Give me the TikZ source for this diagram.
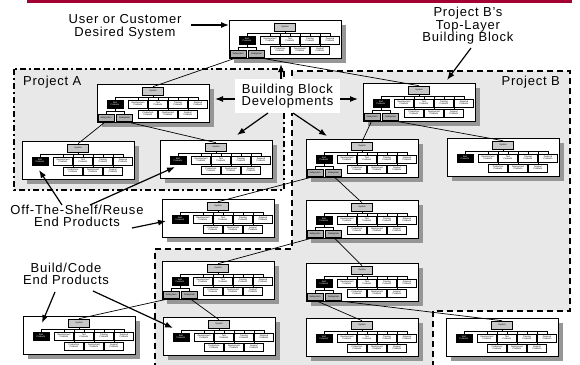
\documentclass[tikz,border=0pt]{standalone}
\usepackage{fontspec}
\setmainfont{Liberation Sans}
\usetikzlibrary{arrows.meta}
\definecolor{barred}{RGB}{163,0,52}
\definecolor{areagray}{RGB}{232,232,232}
\definecolor{shadowgray}{RGB}{150,150,150}
\definecolor{sysgray}{RGB}{200,200,200}
\definecolor{subgray}{RGB}{175,175,175}
\tikzset{
  tinytext/.style={font=\fontsize{2.2}{2.4}\selectfont, align=center, inner sep=0pt},
  sysbox/.style={tinytext, draw, line width=0.6pt, fill=sysgray, minimum width=21pt, minimum height=8pt},
  endbox/.style={tinytext, draw, fill=black, text=white, minimum width=16pt, minimum height=8pt},
  pbox/.style={tinytext, draw, line width=0.5pt, fill=white, minimum width=19pt, minimum height=8pt},
  subbox/.style={tinytext, draw, line width=0.5pt, fill=subgray, minimum width=16pt, minimum height=7pt},
  innerline/.style={line width=0.45pt},
  lbl/.style={font=\fontsize{13}{12.5}\selectfont\addfontfeature{LetterSpace=6}, align=center, inner sep=0pt},
  callout/.style={line width=1.2pt, -{Latex[length=8pt,width=6pt]}},
  linkline/.style={line width=0.7pt},
  areaB/.style={draw, line width=1.6pt, dash pattern=on 6pt off 4pt},
  areaA/.style={draw, line width=1.6pt, dash pattern=on 6pt off 3pt on 2pt off 3pt},
}
\newcommand{\blockbase}{%
  \fill[shadowgray] (5,5) rectangle (117,43);
  \draw[fill=white, line width=1pt] (0,0) rectangle (112,38);
  \draw[innerline] (56,10) -- (56,13) (18,13) -- (101,13)
    (18,13) -- (18,16) (41,13) -- (41,16) (61,13) -- (61,16) (81,13) -- (81,16) (101,13) -- (101,16)
    (51,13) -- (51,26) (71,13) -- (71,26) (91,13) -- (91,26);
  \node[sysbox] (-sys) at (56,7) {System};
  \node[endbox] (-end) at (18,20) {End\\Products};
  \node[pbox] (-dev) at (41,20) {Development\\Products};
  \node[pbox] (-tst) at (61,20) {Test\\Products};
  \node[pbox] (-trn) at (81,20) {Training\\Products};
  \node[pbox] (-dsp) at (101,20) {Disposal\\Products};
  \node[pbox] (-prd) at (51,30) {Production\\Products};
  \node[pbox] (-dpl) at (71,30) {Deployment\\Products};
  \node[pbox] (-sup) at (91,30) {Support\\Products};
}
\newcommand{\blocksubs}{%
  \draw[innerline] (18,24) -- (18,27) (9,27) -- (27.5,27) (9,27) -- (9,30) (27.5,27) -- (27.5,30);
  \node[subbox] (-s1) at (9,33.5) {Subsystem};
  \node[subbox] (-s2) at (27.5,33.5) {Subsystem};
}
\tikzset{
  blk/.pic={\blockbase},
  blks/.pic={\blockbase\blocksubs},
}
\begin{document}
\begin{tikzpicture}[x=1pt, y=-1pt]
\useasboundingbox (0,0) rectangle (580,364);
\fill[barred] (27,0) rectangle (572,3);
% project areas
\fill[areagray] (14,69) rectangle (284,190);
\path[areaA] (14,69) rectangle (284,190);
\fill[areagray] (292,71) -- (570,71) -- (570,311) -- (433,311) -- (433,366) -- (155,366) -- (155,249) -- (292,249) -- cycle;
\path[areaB] (433,367) -- (433,311) -- (570,311) -- (570,71) -- (292,71) -- (292,249) -- (155,249) -- (155,367);
% blocks
\pic (b1) at (229,20) {blks};
\pic (b2) at (97,84) {blks};
\pic (b3) at (363,83) {blks};
\pic (b4) at (22,141) {blk};
\pic (b5) at (160,140) {blk};
\pic (b6) at (162,199) {blk};
\pic (b7) at (306,139) {blks};
\pic (b8) at (447,138) {blk};
\pic (b9) at (306,200) {blks};
\pic (b10) at (162,261) {blks};
\pic (b11) at (306,263) {blks};
\pic (b12) at (23,316) {blk};
\pic (b13) at (163,317) {blk};
\pic (b14) at (306,318) {blk};
\pic (b15) at (446,318) {blk};
% links
\draw[linkline] (b1-s1.south) -- (b2-sys.north);
\draw[linkline] (b1-s2.south) -- (b3-sys.north);
\draw[linkline] (b2-s1.south) -- (b4-sys.north);
\draw[linkline] (b2-s2.south) -- (b5-sys.north);
\draw[linkline] (b3-s1.south) -- (b7-sys.north);
\draw[linkline] (b3-s2.south) -- (b8-sys.north);
\draw[linkline] (b7-s1.south) -- (b6-sys.north);
\draw[linkline] (b7-s2.south) -- (b9-sys.north);
\draw[linkline] (b9-s1.south) -- (b10-sys.north);
\draw[linkline] (b9-s2.south) -- (b11-sys.north);
\draw[linkline] (b10-s1.south) -- (b12-sys.north);
\draw[linkline] (b10-s2.south) -- (b13-sys.north);
\draw[linkline] (b11-s1.south) -- (b14-sys.north);
\draw[linkline] (b11-s2.south) -- (b15-sys.north);
% labels
\node[lbl] (user) at (125,27) {User or Customer\\Desired System};
\node[lbl] (pbtop) at (468,26) {Project B's\\Top-Layer\\Building Block};
\node[lbl, anchor=base west] (pa) at (23,85) {Project A};
\node[lbl, anchor=base east] (pb) at (560,85) {Project B};
\node[lbl, fill=white, minimum width=105pt, minimum height=34pt] (bbd) at (287.5,96) {Building Block\\Developments};
\node[lbl] (ots) at (77,216) {Off-The-Shelf/Reuse\\End Products};
\node[lbl] (bce) at (66,274) {Build/Code\\End Products};
% arrow end points
\coordinate (userS) at (191,25); \coordinate (userT) at (229,25);
\coordinate (pbS) at (471,48); \coordinate (pbT) at (447,80);
\coordinate (bbU) at (281,64); \coordinate (bbUs) at (281,79);
\coordinate (bbLs) at (235,99); \coordinate (bbL) at (215,99);
\coordinate (bbRs) at (340,99); \coordinate (bbR) at (358,99);
\coordinate (bbDLs) at (268,113); \coordinate (bbDL) at (237,135);
\coordinate (bbDRs) at (293,113); \coordinate (bbDR) at (327,136);
\coordinate (ots1s) at (62,205); \coordinate (ots1) at (39,170);
\coordinate (ots2s) at (90,205); \coordinate (ots2) at (175,167);
\coordinate (ots3s) at (132,228); \coordinate (ots3) at (166,221);
\coordinate (bc1s) at (55,292); \coordinate (bc1) at (42,323);
\coordinate (bc2s) at (93,291); \coordinate (bc2) at (173,328);
\draw[callout] (userS) -- (userT);
\draw[callout] (pbS) -- (pbT);
\draw[callout] (bbUs) -- (bbU);
\draw[callout] (bbLs) -- (bbL);
\draw[callout] (bbRs) -- (bbR);
\draw[callout] (bbDLs) -- (bbDL);
\draw[callout] (bbDRs) -- (bbDR);
\draw[callout] (ots1s) -- (ots1);
\draw[callout] (ots2s) -- (ots2);
\draw[callout] (ots3s) -- (ots3);
\draw[callout] (bc1s) -- (bc1);
\draw[callout] (bc2s) -- (bc2);
\end{tikzpicture}
\end{document}
